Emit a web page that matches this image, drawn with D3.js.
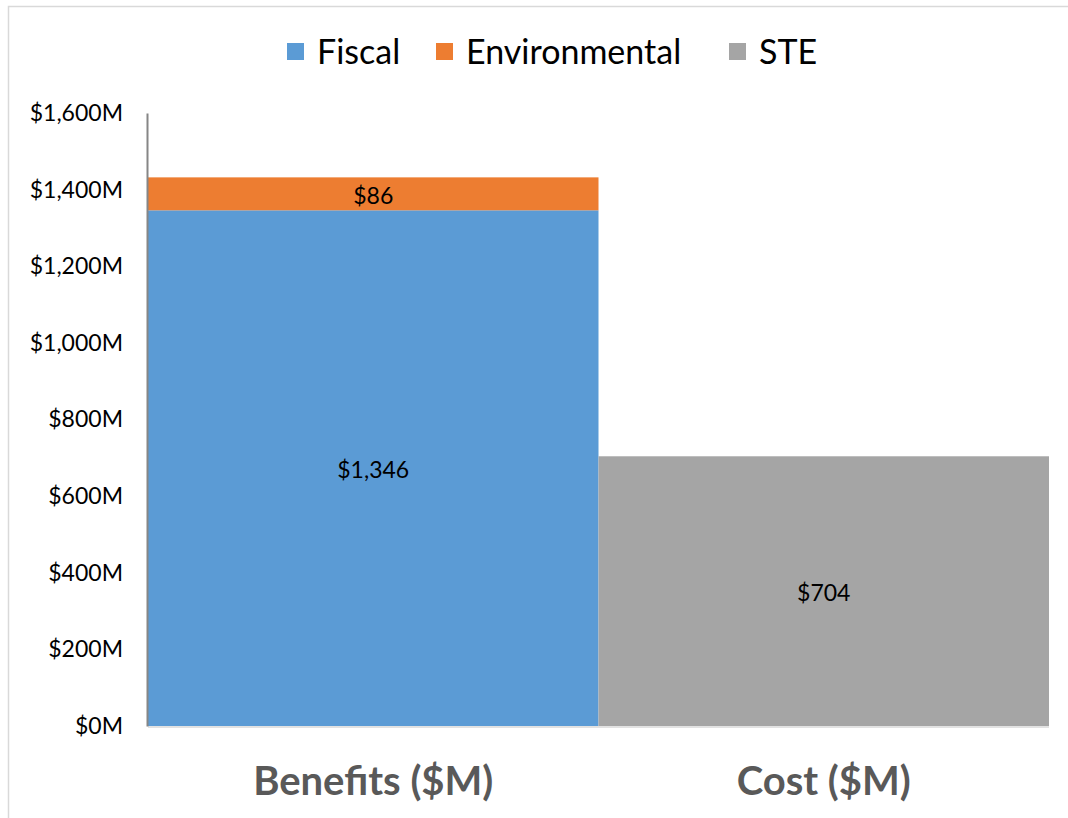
<!DOCTYPE html>
<html>
<head>
<meta charset="utf-8">
<script src="https://cdn.jsdelivr.net/npm/d3@7"></script>
<style>
  body { margin: 0; background: #fff; }
  text { font-family: Lato, "Open Sans", sans-serif; }
</style>
</head>
<body>
<svg id="chart" width="1068" height="818"></svg>
<script>
var categories = ["Benefits ($M)", "Cost ($M)"];
var seriesNames = ["Fiscal", "Environmental", "STE"];
var fiscal = [1346, 0];
var environmental = [86, 0];
var ste = [0, 704];
var yTicks = [0, 200, 400, 600, 800, 1000, 1200, 1400, 1600];

var colors = { Fiscal: "#5b9bd5", Environmental: "#ed7d31", STE: "#a5a5a5" };

var svg = d3.select("#chart");

// outer chart frame (only left/top visible)
svg.append("rect")
  .attr("x", 8.5).attr("y", 6.5)
  .attr("width", 1100).attr("height", 900)
  .attr("fill", "none")
  .attr("stroke", "#d9d9d9")
  .attr("stroke-width", 1.5);

var x = d3.scaleBand().domain(categories).range([148, 1049]).padding(0);
var y = d3.scaleLinear().domain([0, 1600]).range([726, 113]);

var rows = categories.map(function(c, i) {
  return { cat: c, Fiscal: fiscal[i], Environmental: environmental[i], STE: ste[i] };
});
var stacked = d3.stack().keys(seriesNames)(rows);

var layers = svg.selectAll("g.layer")
  .data(stacked)
  .enter().append("g")
    .attr("class", "layer")
    .attr("fill", function(d) { return colors[d.key]; });

layers.selectAll("rect")
  .data(function(d) { return d; })
  .enter().append("rect")
    .attr("x", function(d) { return x(d.data.cat); })
    .attr("width", x.bandwidth())
    .attr("y", function(d) { return y(d[1]); })
    .attr("height", function(d) { return y(d[0]) - y(d[1]); });

// data labels
var fmt = d3.format(",");
layers.each(function(s) {
  d3.select(this).selectAll("text.val")
    .data(s.filter(function(d) { return d[1] - d[0] > 0; }))
    .enter().append("text")
      .attr("class", "val")
      .attr("x", function(d) { return x(d.data.cat) + x.bandwidth() / 2; })
      .attr("y", function(d) { return (y(d[0]) + y(d[1])) / 2 + 10; })
      .attr("text-anchor", "middle")
      .attr("font-size", 23)
      .attr("fill", "#000")
      .text(function(d) { return "$" + fmt(d[1] - d[0]); });
});

// baseline
svg.append("line")
  .attr("x1", 148).attr("x2", 1049)
  .attr("y1", y(0) + 1).attr("y2", y(0) + 1)
  .attr("stroke", "#d9d9d9").attr("stroke-width", 1.5);

// y axis
var yAxis = svg.append("g")
  .attr("transform", "translate(147,0)")
  .call(d3.axisLeft(y).tickValues(yTicks).tickSize(0).tickPadding(24)
    .tickFormat(function(d) { return "$" + fmt(d) + "M"; }));
yAxis.select(".domain").attr("stroke", "#868686").attr("stroke-width", 2);
yAxis.selectAll("text")
  .attr("font-size", 23)
  .attr("fill", "#000")
  .attr("font-family", "Lato, 'Open Sans', sans-serif");

// category labels
svg.selectAll("text.cat")
  .data(categories)
  .enter().append("text")
    .attr("class", "cat")
    .attr("x", function(d) { return x(d) + x.bandwidth() / 2; })
    .attr("y", 795)
    .attr("text-anchor", "middle")
    .attr("font-size", 40)
    .attr("font-weight", "bold")
    .attr("fill", "#595959")
    .text(function(d) { return d; });

// legend
var legendItems = [
  { name: "Fiscal", x: 287 },
  { name: "Environmental", x: 436 },
  { name: "STE", x: 729 }
];
var legend = svg.selectAll("g.legend")
  .data(legendItems)
  .enter().append("g")
    .attr("class", "legend")
    .attr("transform", function(d) { return "translate(" + d.x + ",0)"; });
legend.append("rect")
  .attr("x", 0).attr("y", 43)
  .attr("width", 17).attr("height", 17)
  .attr("fill", function(d) { return colors[d.name]; });
legend.append("text")
  .attr("x", 30).attr("y", 64)
  .attr("font-size", 34)
  .attr("fill", "#000")
  .text(function(d) { return d.name; });
</script>
</body>
</html>
